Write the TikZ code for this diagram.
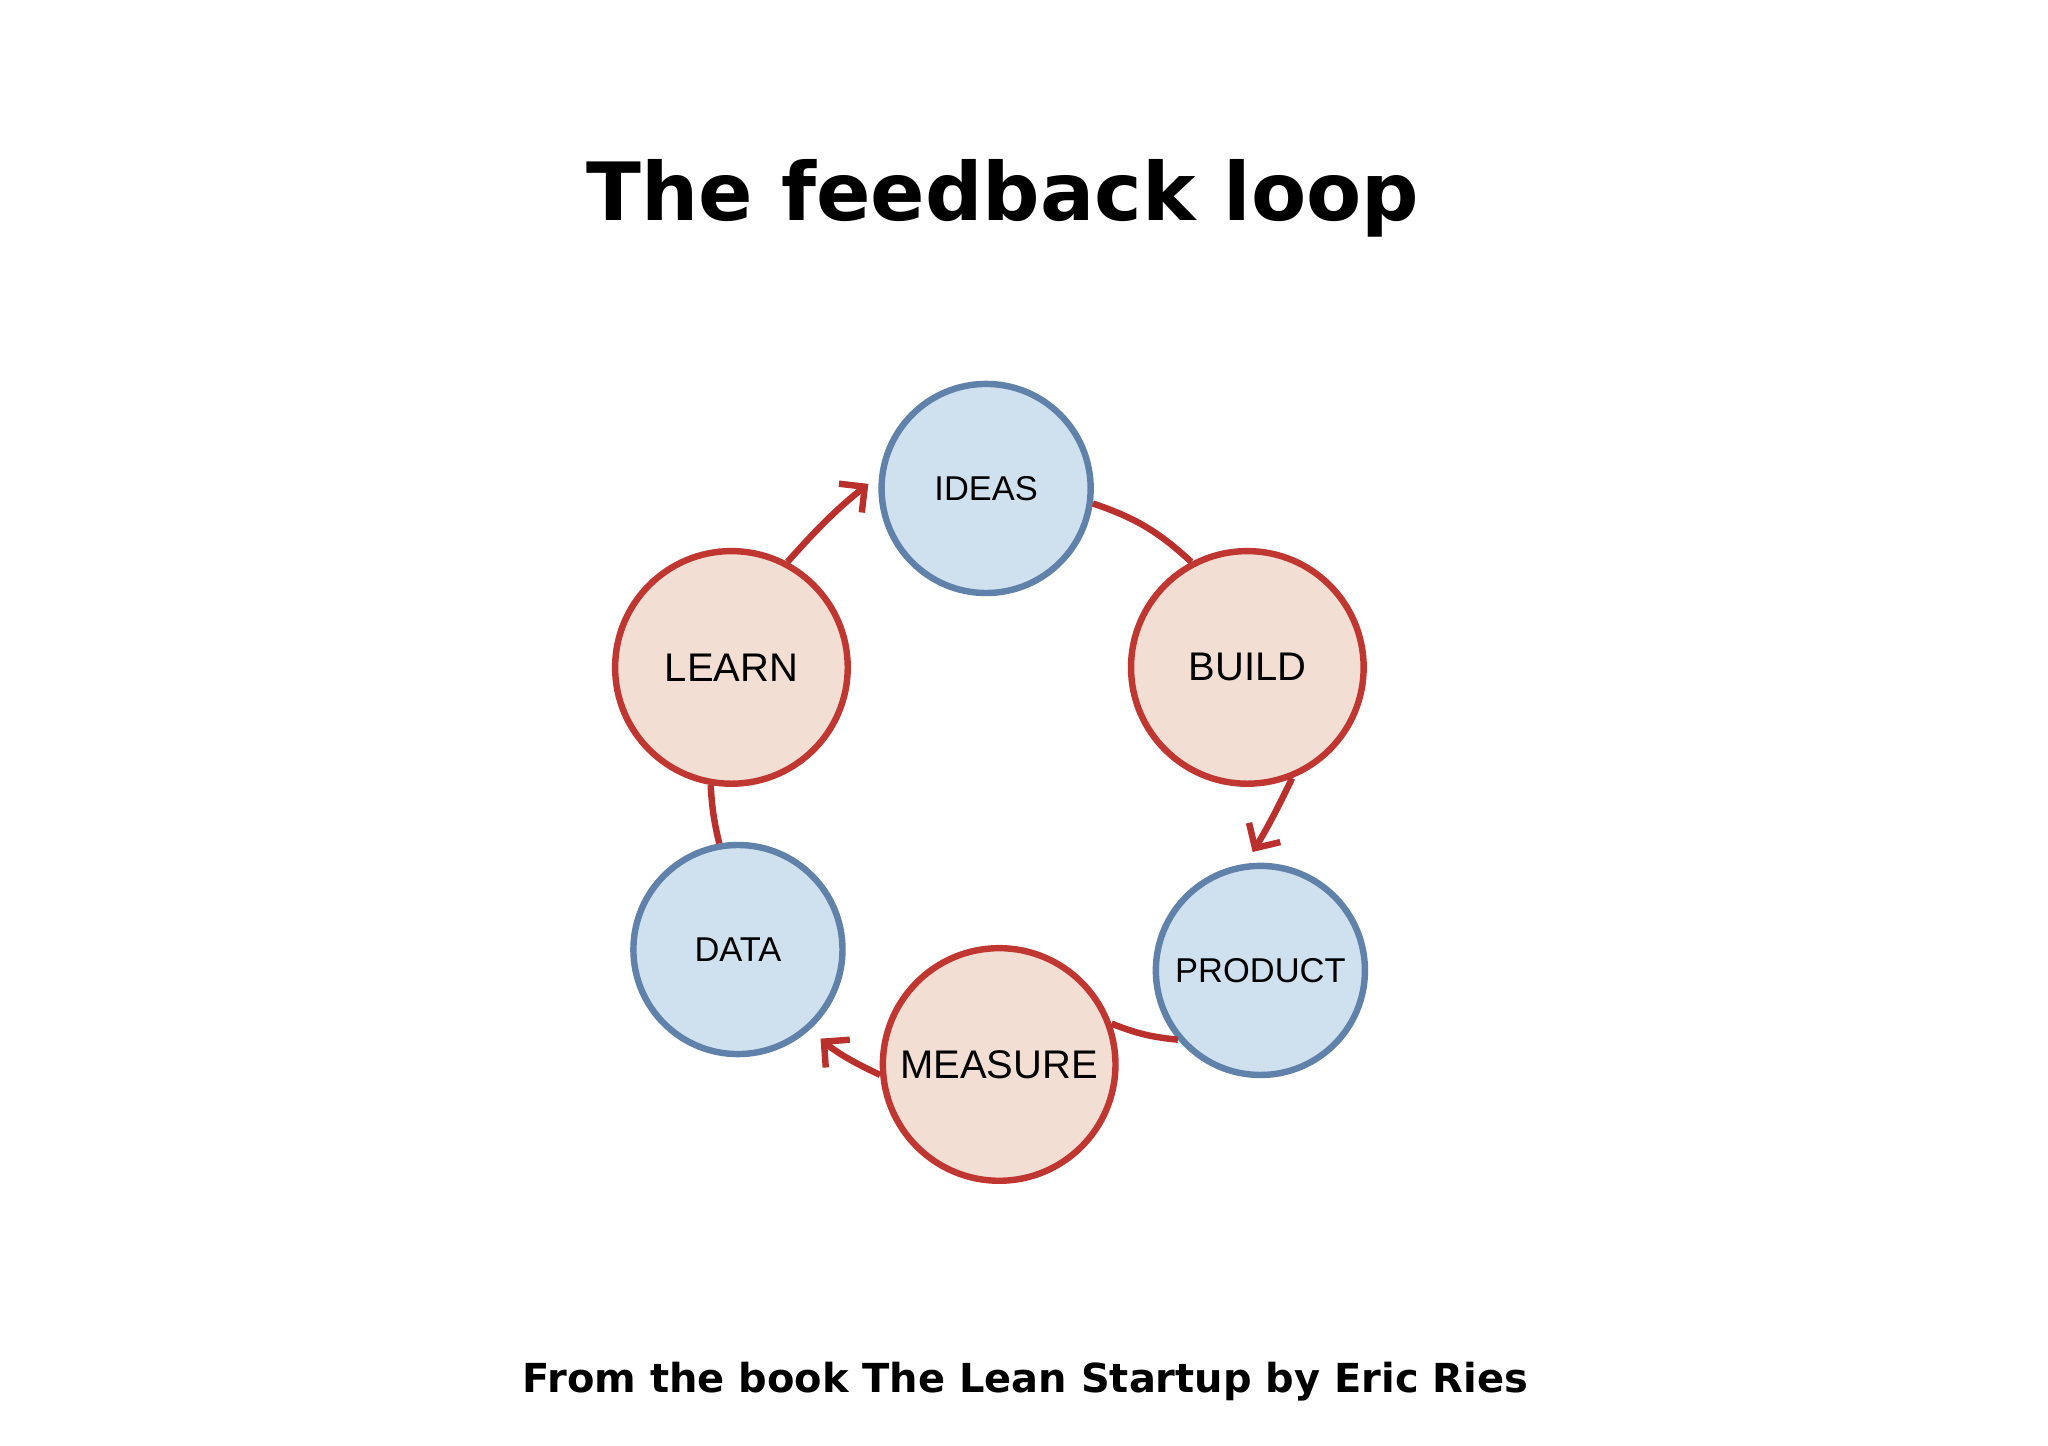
\documentclass[tikz,border=0pt]{standalone}
\usepackage{fontspec}
\setmainfont{Liberation Sans}
\newfontfamily\titlefont{DejaVu Sans}
\usetikzlibrary{arrows.meta}
\definecolor{bfill}{RGB}{207,225,238}
\definecolor{bdraw}{RGB}{96,130,170}
\definecolor{rfill}{RGB}{243,222,212}
\definecolor{rdraw}{RGB}{192,55,50}
\definecolor{arr}{RGB}{185,48,44}
\begin{document}
\begin{tikzpicture}[x=0.01cm,y=-0.01cm,
  bluec/.style={circle,draw=bdraw,fill=bfill,line width=1.4pt,minimum size=1.6cm,inner sep=0pt,font=\fontsize{7.5}{9}\selectfont},
  redc/.style={circle,draw=rdraw,fill=rfill,line width=1.4pt,minimum size=1.78cm,inner sep=0pt,font=\fontsize{8.7}{10}\selectfont},
  link/.style={draw=arr,line width=1.4pt},
  arrowlink/.style={link,-{Straight Barb[length=4pt,width=8pt,line width=1.4pt]},shorten >=3pt}]
\useasboundingbox (0,0) rectangle (1568,1107);
\node[font=\titlefont\bfseries\fontsize{17.5}{20}\selectfont] (title) at (768,152) {The feedback loop};
\node[font=\titlefont\bfseries\fontsize{8.7}{10}\selectfont] (foot) at (785,1058) {From the book The Lean Startup by Eric Ries};
\node[bluec] (ideas) at (755,374) {IDEAS};
\node[redc] (build) at (955,511) {BUILD};
\node[bluec] (product) at (965,743) {PRODUCT};
\node[redc] (measure) at (765,815) {MEASURE};
\node[bluec] (data) at (565,727) {DATA};
\node[redc] (learn) at (560,511) {LEARN};
\draw[link] (ideas.-8) to[bend left=12] (build.118);
\draw[arrowlink] (build.-68) to[bend left=3] (product.98);
\draw[link] (product.-140) to[bend left=8] (measure.20);
\draw[arrowlink] (measure.185) to[bend left=8] (data.-48);
\draw[link] (data.100) to[bend left=5] (learn.-100);
\draw[arrowlink] (learn.62) to[bend left=5] (ideas.173);
\end{tikzpicture}
\end{document}
